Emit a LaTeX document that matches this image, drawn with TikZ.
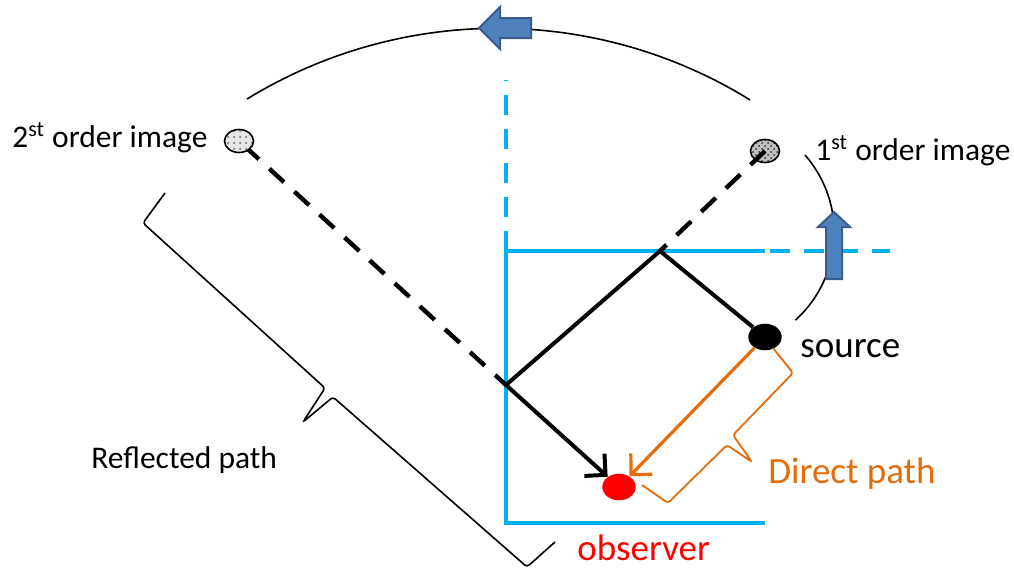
\documentclass[tikz,border=0pt]{standalone}
\usepackage{fontspec}
\setmainfont{Carlito}
\usetikzlibrary{shapes.geometric,arrows.meta,patterns}
\definecolor{wall}{HTML}{00B0F0}
\definecolor{ppblue}{HTML}{4F81BD}
\definecolor{ppblueD}{HTML}{385D8A}
\definecolor{ppor}{HTML}{E46C0A}
\begin{document}
\begin{tikzpicture}[x=0.5pt,y=-0.5pt,
  wallline/.style={wall,line width=2pt},
  walldash/.style={wall,line width=2pt,dash pattern=on 10pt off 7pt},
  ray/.style={line width=2pt,black},
  rayd/.style={line width=2.2pt,dash pattern=on 10pt off 7pt},
  thinline/.style={line width=0.8pt},
  barb/.style={-{Straight Barb[length=7.5pt,width=15pt]}},
  blockarrow/.style={fill=ppblue,draw=ppblueD,line width=1pt,line join=miter},
  lbl/.style={anchor=base west,inner sep=0pt,font=\fontsize{15.75}{18}\selectfont},
  big/.style={anchor=base west,inner sep=0pt,font=\fontsize{18.5}{22}\selectfont},
  dot/.style={ellipse,inner sep=0pt,minimum width=16.7pt,minimum height=13.3pt},
  img/.style={ellipse,draw,line width=0.8pt,inner sep=0pt,minimum width=14.5pt,minimum height=11.5pt}
]
\useasboundingbox (0,0) rectangle (1014,569);

% walls
\coordinate (wtl) at (506,251);
\coordinate (wbl) at (506,523);
\coordinate (wbr) at (765,523);
\coordinate (wtr) at (765,251);
\coordinate (wtop) at (506,80);
\coordinate (wdash) at (770,251);
\coordinate (wend) at (890,251);
\draw[wallline] (wtr) -- (wtl) -- (wbl) -- (wbr);
\draw[walldash] (wtl) -- (wtop);
\draw[walldash] (wdash) -- (wend);

% arcs
\coordinate (a1s) at (247,99);
\coordinate (a2s) at (805,155);
\draw[thinline] (a1s) arc[start angle=-121.5,end angle=-58.3,radius=480];
\draw[thinline] (a2s) arc[start angle=-41.2,end angle=47.8,radius=118];

% source, observer, reflection points
\node[dot,fill=black] (src) at (765,337) {};
\node[dot,fill=red] (obs) at (619,487) {};
\coordinate (r1) at (660,251);
\coordinate (r2) at (506,385);
\coordinate (i1c) at (765,151);
\coordinate (i2c) at (239,141);

% reflected path
\draw[ray,barb] (src) -- (r1) -- (r2) -- (obs);
% direct path
\draw[ppor,line width=1.6pt,barb] (src) -- (obs);

% image lines and images
\draw[rayd,dash phase=13.5pt] (i2c) -- (r2);
\node[img,preaction={fill=gray!20},pattern=dots,pattern color=black!60] (i2) at (i2c) {};
\node[img,preaction={fill=gray!50},pattern=crosshatch dots,pattern color=black!80] (i1) at (i1c) {};
\draw[rayd] (i1.center) -- (r1);

% block arrows
\draw[blockarrow] (479,28) -- (500,7) -- (500,18) -- (531,18) -- (531,38) -- (500,38) -- (500,49) -- cycle;
\draw[blockarrow] (834,212) -- (850,227) -- (842,227) -- (842,279) -- (826,279) -- (826,227) -- (818,227) -- cycle;

% braces
\draw[thinline,rounded corners=1.5pt] (165,193) -- (143,223) -- (325,388) -- (303,422) -- (333,397) -- (527,567) -- (555,542);
\draw[ppor,line width=0.9pt,rounded corners=1.5pt] (773,348) -- (793,373) -- (733,435) -- (752,462) -- (727,445) -- (668,503) -- (642,485);

% labels
\node[lbl] (t2) at (12,147) {2\textsuperscript{st} order image};
\node[lbl] (t1) at (815,160) {1\textsuperscript{st} order image};
\node[lbl] (trp) at (91,468) {Reflected path};
\node[big] (tsrc) at (800,357) {source};
\node[big,text=ppor] (tdp) at (768,483) {Direct path};
\node[big,text=red] (tobs) at (577,560) {observer};
\end{tikzpicture}
\end{document}
